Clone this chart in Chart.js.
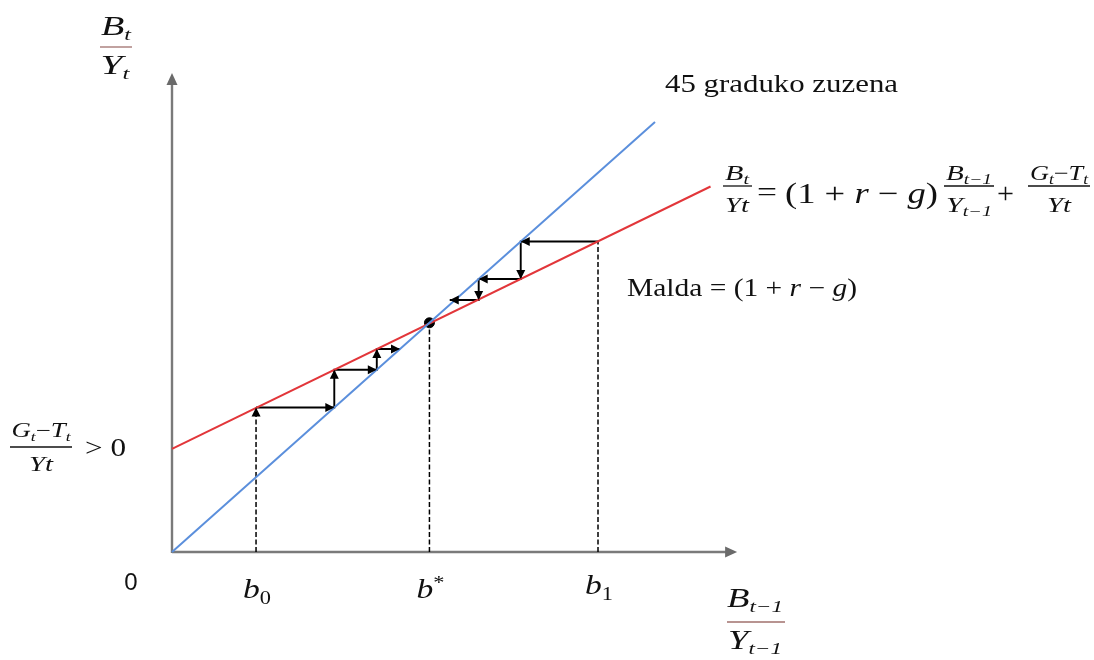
<!DOCTYPE html>
<html>
<head>
<meta charset="utf-8">
<script src="https://cdn.jsdelivr.net/npm/chart.js@4.4.0/dist/chart.umd.min.js"></script>
<style>
  html, body { margin: 0; padding: 0; background: #fff; }
</style>
</head>
<body>
<canvas id="grafikoa" width="1094" height="660"></canvas>
<script>
// zorraren dinamika: 45 graduko zuzena eta b_t = (1+r-g) b_{t-1} + (G-T)/Y

// 45 graduko zuzena
const zuzenaX = [0, 10];
const zuzenaY = [0, 10];

// zorraren lerroa (malda 1+r-g, ebakidura (G-T)/Y > 0)
const zorraX = [0, 11.15];
const zorraY = [2.40, 8.50];

// ardatzeko puntuak: b0, b*, b1 eta lerro etenen altuera
const bIzenak = ['b0', 'b*', 'b1'];
const bBalioak = [1.74, 5.33, 8.82];
const bAltuerak = [3.36, 5.33, 7.22];
const bGeziak = [true, false, false];

// b0-tik gorantz doan bidea
const behekoX = [1.74, 3.36, 3.36, 4.24, 4.24, 4.72];
const behekoY = [3.36, 3.36, 4.24, 4.24, 4.72, 4.72];

// b1-etik beherantz doan bidea
const goikoX = [8.82, 7.22, 7.22, 6.35, 6.35, 5.75];
const goikoY = [7.22, 7.22, 6.35, 6.35, 5.86, 5.86];

// ardatzen luzera
const ardatzX = 11.7;
const ardatzY = 11.14;

const SERIF = '"Liberation Serif", "Times New Roman", serif';

function puntuak(xs, ys) {
    return xs.map((x, i) => ({ x: x, y: ys[i] }));
}

// gezi-punta bat (x0,y0) -> (x1,y1) norabidean
function geziPunta(ctx, x0, y0, x1, y1, luz, zab, kolorea) {
    const a = Math.atan2(y1 - y0, x1 - x0);
    ctx.save();
    ctx.translate(x1, y1);
    ctx.rotate(a);
    ctx.fillStyle = kolorea;
    ctx.beginPath();
    ctx.moveTo(0, 0);
    ctx.lineTo(-luz, zab);
    ctx.lineTo(-luz, -zab);
    ctx.closePath();
    ctx.fill();
    ctx.restore();
}

// testu zatiak (normal / etzana / azpiindizea) jarraian marraztu
function R(t, size, italic, dy) {
    return { t: t, size: size, italic: !!italic, dy: dy || 0 };
}
function zatiak(ctx, runs, x, y, opts) {
    opts = opts || {};
    let guztira = 0;
    runs.forEach(r => {
        ctx.font = (r.italic ? 'italic ' : '') + r.size + 'px ' + SERIF;
        r.w = ctx.measureText(r.t).width;
        guztira += r.w;
    });
    const sx = opts.width ? opts.width / guztira : 1;
    let hasi = x;
    if (opts.align === 'center') hasi = x - guztira * sx / 2;
    ctx.save();
    ctx.translate(hasi, y);
    ctx.scale(sx, 1);
    ctx.fillStyle = opts.color || '#111';
    ctx.textBaseline = 'alphabetic';
    let cx = 0;
    runs.forEach(r => {
        ctx.font = (r.italic ? 'italic ' : '') + r.size + 'px ' + SERIF;
        ctx.fillText(r.t, cx, r.dy);
        cx += r.w;
    });
    ctx.restore();
}
function zatiLerroa(ctx, x1, x2, y, kolorea) {
    ctx.save();
    ctx.strokeStyle = kolorea || '#111';
    ctx.lineWidth = 1.3;
    ctx.beginPath();
    ctx.moveTo(x1, y);
    ctx.lineTo(x2, y);
    ctx.stroke();
    ctx.restore();
}

// ardatzak geziekin
const ardatzakPlugin = {
    id: 'ardatzak',
    beforeDatasetsDraw(chart) {
        const ctx = chart.ctx;
        const sx = chart.scales.x, sy = chart.scales.y;
        const x0 = sx.getPixelForValue(0), y0 = sy.getPixelForValue(0);
        const xm = sx.getPixelForValue(ardatzX), ym = sy.getPixelForValue(ardatzY);
        ctx.save();
        ctx.strokeStyle = '#7a7a7a';
        ctx.lineWidth = 2.4;
        ctx.beginPath();
        ctx.moveTo(x0, y0);
        ctx.lineTo(xm - 6, y0);
        ctx.moveTo(x0, y0 + 1);
        ctx.lineTo(x0, ym + 6);
        ctx.stroke();
        ctx.restore();
        geziPunta(ctx, x0, y0, xm, y0, 12, 5.5, '#6a6a6a');
        geziPunta(ctx, x0, y0, x0, ym, 12, 5.5, '#6a6a6a');
    }
};

// datu-multzoetako gezi-puntak
const geziakPlugin = {
    id: 'geziak',
    afterDatasetsDraw(chart) {
        const ctx = chart.ctx;
        chart.data.datasets.forEach((ds, i) => {
            if (!ds.geziak) return;
            const pts = chart.getDatasetMeta(i).data;
            for (let k = 1; k < pts.length; k++) {
                geziPunta(ctx, pts[k - 1].x, pts[k - 1].y, pts[k].x, pts[k].y, 9, 4.5, '#000');
            }
        });
    }
};

// testuak eta formulak
const testuakPlugin = {
    id: 'testuak',
    afterDraw(chart) {
        const ctx = chart.ctx;
        const sx = chart.scales.x, sy = chart.scales.y;
        const behea = sy.getPixelForValue(0);

        // Y ardatzaren izena: B_t / Y_t
        zatiak(ctx, [R('B', 27, true), R('t', 17, true, 5)], 116, 35, { align: 'center', width: 30 });
        zatiLerroa(ctx, 100, 132, 47, '#a0706c');
        zatiak(ctx, [R('Y', 27, true), R('t', 17, true, 5)], 115, 74, { align: 'center', width: 29 });

        // X ardatzaren izena: B_{t-1} / Y_{t-1}
        zatiak(ctx, [R('B', 27, true), R('t\u22121', 17, true, 5)], 755, 607, { align: 'center', width: 56 });
        zatiLerroa(ctx, 727, 785, 622, '#a0706c');
        zatiak(ctx, [R('Y', 27, true), R('t\u22121', 17, true, 5)], 755, 649, { align: 'center', width: 54 });

        // jatorria
        ctx.save();
        ctx.fillStyle = '#111';
        ctx.font = '24px "Liberation Sans", Arial, sans-serif';
        ctx.textAlign = 'center';
        ctx.fillText('0', 131, 590);
        ctx.restore();

        // b0, b*, b1
        bIzenak.forEach((iz, i) => {
            const px = sx.getPixelForValue(bBalioak[i]);
            const ind = iz.slice(1);
            const runs = ind === '*'
                ? [R('b', 27, true), R('*', 18, false, -9)]
                : [R('b', 27, true), R(ind, 18, false, 6)];
            zatiak(ctx, runs, px + 1, behea + 46 - (i === 2 ? 4 : 0), { align: 'center', width: 28 });
        });

        // 45 graduko zuzena
        zatiak(ctx, [R('45 graduko zuzena', 26, false)], 665, 92, { width: 233 });

        // lerro gorriaren ekuazioa
        zatiak(ctx, [R('B', 21, true), R('t', 14, true, 4)], 737, 180, { align: 'center', width: 24 });
        zatiLerroa(ctx, 723, 752, 186);
        zatiak(ctx, [R('Yt', 21, true)], 737, 212, { align: 'center', width: 24 });
        zatiak(ctx, [R('=', 28, false)], 757, 201, { width: 20 });
        zatiak(ctx, [R('(1 + ', 29, false), R('r', 29, true), R(' \u2212 ', 29, false), R('g', 29, true), R(')', 29, false)],
            785, 203, { width: 153 });
        zatiak(ctx, [R('B', 21, true), R('t\u22121', 14, true, 4)], 969, 180, { align: 'center', width: 46 });
        zatiLerroa(ctx, 944, 994, 186);
        zatiak(ctx, [R('Y', 21, true), R('t\u22121', 14, true, 4)], 969, 212, { align: 'center', width: 46 });
        zatiak(ctx, [R('+', 29, false)], 997, 203, { width: 17 });
        zatiak(ctx, [R('G', 21, true), R('t', 14, true, 4), R('\u2212', 21, false), R('T', 21, true), R('t', 14, true, 4)],
            1059, 180, { align: 'center', width: 58 });
        zatiLerroa(ctx, 1028, 1090, 186);
        zatiak(ctx, [R('Yt', 21, true)], 1059, 212, { align: 'center', width: 24 });

        // malda
        zatiak(ctx, [R('Malda = ', 25, false), R('(1 + ', 25, false), R('r', 25, true), R(' \u2212 ', 25, false),
            R('g', 25, true), R(')', 25, false)], 627, 296, { width: 230 });

        // ebakidura: (G_t - T_t)/Yt > 0
        zatiak(ctx, [R('G', 20, true), R('t', 13, true, 4), R('\u2212', 20, false), R('T', 20, true), R('t', 13, true, 4)],
            41, 437, { align: 'center', width: 59 });
        zatiLerroa(ctx, 10, 72, 447);
        zatiak(ctx, [R('Yt', 20, true)], 41, 471, { align: 'center', width: 24 });
        zatiak(ctx, [R('> 0', 26, false)], 85, 456, { width: 41 });
    }
};

const lerroEtenak = bBalioak.map((b, i) => ({
    data: puntuak([b, b], [0, bAltuerak[i]]),
    borderColor: '#000',
    borderWidth: 1.5,
    borderDash: [5, 2.5],
    pointRadius: 0,
    geziak: bGeziak[i]
}));

new Chart(document.getElementById('grafikoa'), {
    type: 'line',
    data: {
        datasets: [
            {
                data: puntuak(zuzenaX, zuzenaY),
                borderColor: '#5b8fdc',
                borderWidth: 2,
                pointRadius: 0
            },
            {
                data: puntuak(zorraX, zorraY),
                borderColor: '#e2363a',
                borderWidth: 2,
                pointRadius: 0
            },
            ...lerroEtenak,
            {
                data: puntuak(behekoX, behekoY),
                borderColor: '#000',
                borderWidth: 1.9,
                pointRadius: 0,
                geziak: true
            },
            {
                data: puntuak(goikoX, goikoY),
                borderColor: '#000',
                borderWidth: 1.9,
                pointRadius: 0,
                geziak: true
            },
            {
                data: [{ x: bBalioak[1], y: bAltuerak[1] }],
                showLine: false,
                pointRadius: 5,
                pointBackgroundColor: '#000',
                pointBorderColor: '#000'
            }
        ]
    },
    options: {
        responsive: false,
        animation: false,
        clip: false,
        layout: { padding: { left: 172, right: 342.4, top: 36, bottom: 108 } },
        elements: { line: { tension: 0, fill: false } },
        scales: {
            x: { type: 'linear', min: 0, max: 12, display: false },
            y: { type: 'linear', min: 0, max: 12, display: false }
        },
        plugins: {
            legend: { display: false },
            tooltip: { enabled: false }
        }
    },
    plugins: [ardatzakPlugin, geziakPlugin, testuakPlugin]
});
</script>
</body>
</html>
